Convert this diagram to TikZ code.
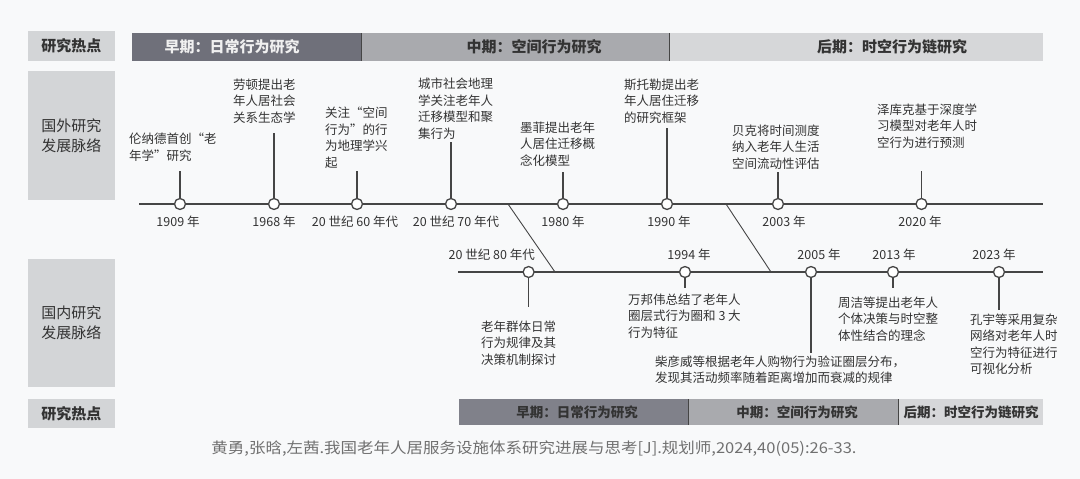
\documentclass[tikz,border=0pt]{standalone}
\usepackage{fontspec}
\setmainfont{Noto Sans CJK SC}
\usepackage{xcolor}
\usetikzlibrary{positioning}
\definecolor{bg}{HTML}{F8F9FA}
\definecolor{lb}{HTML}{D3D5D7}
\definecolor{ea}{HTML}{6F707A}
\definecolor{md}{HTML}{A9AAAE}
\definecolor{lt}{HTML}{D6D7D9}
\definecolor{tx}{HTML}{333333}
\definecolor{ln}{HTML}{454545}
\definecolor{ci}{HTML}{707070}
\newcommand{\Fs}[2]{\fontsize{#1}{#2}\selectfont}

\tikzset{
  side/.style={fill=lb, anchor=north west, inner sep=0pt, minimum width=87.5pt, align=center, text=tx},
  bar/.style={anchor=north west, inner sep=0pt, minimum height=28pt},
  bartxt/.style={font=\Fs{15}{18}\bfseries, text=tx, inner sep=0pt},
  sep/.style={draw=ln, line width=1.3pt},
  tl/.style={draw=ln, line width=1.2pt},
  diag/.style={draw=ln, line width=0.9pt},
  dot/.style={circle, draw=ln, fill=white, line width=1.3pt, minimum size=11pt, inner sep=0pt},
  yr/.style={font=\Fs{12.5}{15}, text=tx, inner sep=0pt},
  ev/.style={font=\Fs{12.5}{16.4}, text=tx, align=left, inner sep=0pt},
}

\begin{document}
\begin{tikzpicture}[x=1pt, y=-1pt]
  \fill[bg] (0,0) rectangle (1080,479);
  \useasboundingbox (0,0) rectangle (1080,479);

  % top row
  \node[side, minimum height=30pt, font=\Fs{15}{18}\bfseries] (hotT) at (27.5,31) {研究热点};
  \node[bar, fill=ea, minimum width=229pt] (earlyT) at (132,33) {};
  \node[bar, fill=md, minimum width=308pt] (midT) at (361,33) {};
  \node[bar, fill=lt, minimum width=374pt] (lateT) at (669,33) {};
  \draw[sep] (earlyT.north east) -- (earlyT.south east);
  \draw[sep] (midT.north east) -- (midT.south east);
  \node[bartxt, text=white!94!black] (earlyTt) at (232,47) {早期：日常行为研究};
  \node[bartxt] (midTt) at (534,47) {中期：空间行为研究};
  \node[bartxt] (lateTt) at (892,47) {后期：时空行为链研究};

  % side labels
  \node[side, minimum height=129pt, font=\Fs{15}{20}] (abroad) at (27.5,71) {国外研究\\发展脉络};
  \node[side, minimum height=128pt, font=\Fs{15}{20}] (home) at (27.5,259) {国内研究\\发展脉络};

  % foreign line
  \coordinate (uL) at (139,204);
  \coordinate (uR) at (1043,204);
  \draw[tl] (uL) -- (uR);
  % domestic line
  \coordinate (dL) at (458,272);
  \coordinate (dR) at (1043,272);
  \draw[tl] (dL) -- (dR);
  \coordinate (k1a) at (508,204);
  \coordinate (k1b) at (555,272);
  \coordinate (k2a) at (726,204);
  \coordinate (k2b) at (771,272);
  \draw[diag] (k1a) -- (k1b);
  \draw[diag] (k2a) -- (k2b);

  \node[dot] (c1909) at (180,204) {};
  \node[dot] (c1968) at (274,204) {};
  \node[dot] (c60s) at (357,204) {};
  \node[dot] (c70s) at (451,204) {};
  \node[dot] (c1980) at (563,204) {};
  \node[dot] (c1990) at (667,204) {};
  \node[dot] (c2003) at (778,204) {};
  \node[dot] (c2020) at (921.5,204) {};

  \coordinate (s1909) at (180,171);
  \coordinate (s1968) at (274,133);
  \coordinate (s60s) at (357,171);
  \coordinate (s70s) at (451,142);
  \coordinate (s1980) at (563,172);
  \coordinate (s1990) at (667,128);
  \coordinate (s2003) at (778,172);
  \coordinate (s2020) at (921.5,171);
  \draw[tl] (s1909) -- (c1909);
  \draw[tl] (s1968) -- (c1968);
  \draw[tl] (s60s) -- (c60s);
  \draw[tl] (s70s) -- (c70s);
  \draw[tl] (s1980) -- (c1980);
  \draw[tl] (s1990) -- (c1990);
  \draw[tl] (s2003) -- (c2003);
  \draw[tl] (s2020) -- (c2020);

  \node[ev, anchor=south west] (t1909) at (129,161.3) {伦纳德首创“老\\年学”研究};
  \node[ev, anchor=south west] (t1968) at (233,123.3) {劳顿提出老\\年人居社会\\关系生态学};
  \node[ev, anchor=south west] (t60s) at (325,168.3) {关注“空间\\行为”的行\\为地理学兴\\起};
  \node[ev, anchor=south west] (t70s) at (418,139.3) {城市社会地理\\学关注老年人\\迁移模型和聚\\集行为};
  \node[ev, anchor=south west] (t1980) at (520,166.3) {墨菲提出老年\\人居住迁移概\\念化模型};
  \node[ev, anchor=south west] (t1990) at (624,123.3) {斯托勒提出老\\年人居住迁移\\的研究框架};
  \node[ev, anchor=south west] (t2003) at (732,169.3) {贝克将时间测度\\纳入老年人生活\\空间流动性评估};
  \node[ev, anchor=south west] (t2020) at (877,148.3) {泽库克基于深度学\\习模型对老年人时\\空行为进行预测};

  \node[yr] (y1909) at (178,222) {1909 年};
  \node[yr] (y1968) at (274,222) {1968 年};
  \node[yr] (y60s) at (355,222) {20 世纪 60 年代};
  \node[yr] (y70s) at (456,222) {20 世纪 70 年代};
  \node[yr] (y1980) at (563,222) {1980 年};
  \node[yr] (y1990) at (669,222) {1990 年};
  \node[yr] (y2003) at (784,222) {2003 年};
  \node[yr] (y2020) at (920,222) {2020 年};

  \node[dot] (c80s) at (528.6,272) {};
  \node[dot] (c1994) at (685,272) {};
  \node[dot] (c2005) at (811,272) {};
  \node[dot] (c2013) at (893,272) {};
  \node[dot] (c2023) at (999,272) {};

  \coordinate (s80s) at (528.6,307);
  \coordinate (s1994) at (685,288);
  \coordinate (s2005) at (811,353);
  \coordinate (s2013) at (893,288);
  \coordinate (s2023) at (999,310);
  \draw[tl] (c80s) -- (s80s);
  \draw[tl] (c1994) -- (s1994);
  \draw[tl] (c2005) -- (s2005);
  \draw[tl] (c2013) -- (s2013);
  \draw[tl] (c2023) -- (s2023);

  \node[yr, anchor=east] (y80s) at (535,255) {20 世纪 80 年代};
  \node[yr] (y1994) at (689,255) {1994 年};
  \node[yr] (y2005) at (819,255) {2005 年};
  \node[yr] (y2013) at (894,255) {2013 年};
  \node[yr] (y2023) at (994,255) {2023 年};

  \node[ev, anchor=north west] (t80s) at (481,320.7) {老年群体日常\\行为规律及其\\决策机制探讨};
  \node[ev, anchor=north west] (t1994) at (628,293.7) {万邦伟总结了老年人\\圈层式行为圈和 3 大\\行为特征};
  \node[ev, anchor=north west] (t2005) at (655,355.7) {柴彦威等根据老年人购物行为验证圈层分布，\\发现其活动频率随着距离增加而衰减的规律};
  \node[ev, anchor=north west] (t2013) at (838,296.7) {周洁等提出老年人\\个体决策与时空整\\体性结合的理念};
  \node[ev, anchor=north west] (t2023) at (970,313.7) {孔宇等采用复杂\\网络对老年人时\\空行为特征进行\\可视化分析};

  % bottom row
  \node[side, minimum height=29pt, font=\Fs{15}{18}\bfseries] (hotB) at (27.5,399) {研究热点};
  \node[bar, fill=ea!88!white, minimum width=229.4pt, minimum height=26pt] (earlyB) at (458.6,399) {};
  \node[bar, fill=md, minimum width=210pt, minimum height=26pt] (midB) at (688,399) {};
  \node[bar, fill=lt, minimum width=145pt, minimum height=26pt] (lateB) at (898,399) {};
  \draw[sep] (earlyB.north east) -- (earlyB.south east);
  \draw[sep] (midB.north east) -- (midB.south east);
  \node[bartxt, font=\Fs{13.5}{16}\bfseries] (earlyBt) at (577,412) {早期：日常行为研究};
  \node[bartxt, font=\Fs{13.5}{16}\bfseries] (midBt) at (797,412) {中期：空间行为研究};
  \node[bartxt, font=\Fs{13.5}{16}\bfseries] (lateBt) at (971,412) {后期：时空行为链研究};

  \node[font=\Fs{15}{18}, text=ci, inner sep=0pt] (cite) at (534,449)
    {\scalebox{1.1}[1]{黄勇,张晗,左茜.我国老年人居服务设施体系研究进展与思考[J].规划师,2024,40(05):26-33.}};
\end{tikzpicture}
\end{document}
